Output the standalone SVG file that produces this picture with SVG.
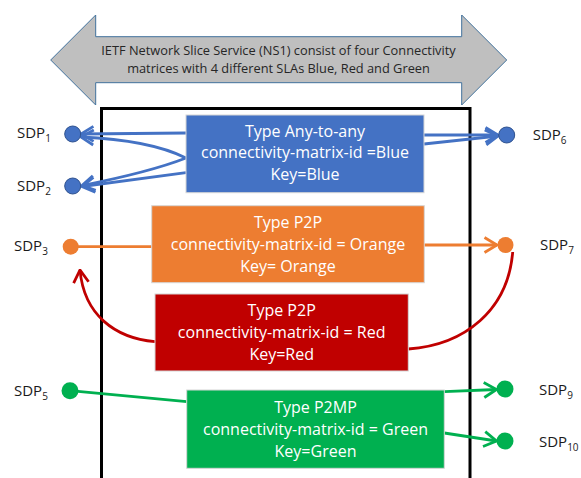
<svg xmlns="http://www.w3.org/2000/svg" width="581" height="478" viewBox="0 0 581 478">
<style>
.box{stroke:#d6d6d6;stroke-width:1}
.bt{font-family:"Open Sans","Liberation Sans",sans-serif;font-size:16px;fill:#ffffff;text-anchor:middle}
.ht{font-family:"Open Sans","Liberation Sans",sans-serif;font-size:12.8px;fill:#262626;text-anchor:middle}
.sdp{font-family:"Open Sans","Liberation Sans",sans-serif;font-size:15px;fill:#1a1a1a}
.sub{font-size:10px}
.cb{fill:none;stroke:#4472C4;stroke-width:2.8;marker-end:url(#mb)}
.co{fill:none;stroke:#ED7D31;stroke-width:2.8}
.cr{fill:none;stroke:#C00000;stroke-width:2.8}
.cg{fill:none;stroke:#00B050;stroke-width:2.8}
</style>
<defs>
<marker id="mb" viewBox="0 0 15 18" refX="14" refY="9" markerWidth="15" markerHeight="18" markerUnits="userSpaceOnUse" orient="auto"><path d="M1.5,1.5 L14,9 L1.5,16.5" fill="none" stroke="#4472C4" stroke-width="2.8"/></marker>
<marker id="mo" viewBox="0 0 15 18" refX="14" refY="9" markerWidth="15" markerHeight="18" markerUnits="userSpaceOnUse" orient="auto"><path d="M1.5,1.5 L14,9 L1.5,16.5" fill="none" stroke="#ED7D31" stroke-width="2.8"/></marker>
<marker id="mr" viewBox="0 0 15 18" refX="14" refY="9" markerWidth="15" markerHeight="18" markerUnits="userSpaceOnUse" orient="auto"><path d="M1.5,1.5 L14,9 L1.5,16.5" fill="none" stroke="#C00000" stroke-width="2.8"/></marker>
<marker id="mg" viewBox="0 0 15 18" refX="14" refY="9" markerWidth="15" markerHeight="18" markerUnits="userSpaceOnUse" orient="auto"><path d="M1.5,1.5 L14,9 L1.5,16.5" fill="none" stroke="#00B050" stroke-width="2.8"/></marker>
</defs>
<g id="banner">
<polygon points="50.7,60 95.7,15 95.7,36.7 461.7,36.7 461.7,15 506.7,60 461.7,105 461.7,82.7 95.7,82.7 95.7,105" fill="#BFBFBF" stroke="#41719C" stroke-width="1"/>
<text class="ht" x="278.5" y="55">IETF Network Slice Service (NS1) consist of four Connectivity</text>
<text class="ht" x="278.5" y="73">matrices with 4 different SLAs Blue, Red and Green</text>
</g>
<g id="frame">
<rect x="101.5" y="108.5" width="368.5" height="380" fill="none" stroke="#000" stroke-width="3"/>
</g>
<g id="connectors">
<path class="cb" d="M186,133 L81,134"/>
<path class="cb" d="M186,158 Q150,140 81,137"/>
<path class="cb" d="M186,158 Q150,172 82,185.5"/>
<path class="cb" d="M186,172.7 L82,186.5"/>
<path class="cb" d="M424,135 L498,135"/>
<path class="cb" d="M424,144 L498,136"/>
<path class="co" d="M78,246.7 L151.7,246.7"/>
<path class="co" d="M424,245 L497,245" marker-end="url(#mo)"/>
<path class="cr" d="M155,341.7 C115,338 84,315 80,270" marker-end="url(#mr)"/>
<path class="cr" d="M408.3,349 C465,345 508,310 512.7,252"/>
<path class="cg" d="M70,390.7 L186.7,401.7"/>
<path class="cg" d="M444.3,391.7 L496.5,389.5" marker-end="url(#mg)"/>
<path class="cg" d="M444.3,433 L496.5,441" marker-end="url(#mg)"/>
</g>
<g id="blue">
<rect class="box" x="186" y="115" width="238" height="77.7" fill="#4472C4"/>
<text class="bt" x="305" y="136.7">Type Any-to-any</text>
<text class="bt" x="305" y="158.3">connectivity-matrix-id =Blue</text>
<text class="bt" x="305" y="180">Key=Blue</text>
</g>
<g id="orange">
<rect class="box" x="151.7" y="205.7" width="272.6" height="77" fill="#ED7D31"/>
<text class="bt" x="288" y="228.3">Type P2P</text>
<text class="bt" x="288" y="250">connectivity-matrix-id = Orange</text>
<text class="bt" x="288" y="271.7">Key= Orange</text>
</g>
<g id="red">
<rect class="box" x="155" y="294" width="253.3" height="77" fill="#C00000"/>
<text class="bt" x="281.7" y="315.7">Type P2P</text>
<text class="bt" x="281.7" y="337.7">connectivity-matrix-id = Red</text>
<text class="bt" x="281.7" y="359.7">Key=Red</text>
</g>
<g id="green">
<rect class="box" x="186.7" y="390" width="257.6" height="78.3" fill="#00B050"/>
<text class="bt" x="315.5" y="412.7">Type P2MP</text>
<text class="bt" x="315.5" y="435">connectivity-matrix-id = Green</text>
<text class="bt" x="315.5" y="456.7">Key=Green</text>
</g>
<g id="sdp1"><circle cx="72.7" cy="134" r="8" fill="#4472C4" stroke="#2F528F" stroke-width="1"/><text class="sdp" x="17" y="138">SDP<tspan class="sub" dy="4">1</tspan></text></g>
<g id="sdp2"><circle cx="72.7" cy="186" r="8" fill="#4472C4" stroke="#2F528F" stroke-width="1"/><text class="sdp" x="17" y="190.7">SDP<tspan class="sub" dy="4">2</tspan></text></g>
<g id="sdp3"><circle cx="70.7" cy="246.7" r="8" fill="#ED7D31"/><text class="sdp" x="14" y="251">SDP<tspan class="sub" dy="4">3</tspan></text></g>
<g id="sdp5"><circle cx="70" cy="390.7" r="8.5" fill="#00B050"/><text class="sdp" x="14" y="396">SDP<tspan class="sub" dy="4">5</tspan></text></g>
<g id="sdp6"><circle cx="506.7" cy="135" r="8" fill="#4472C4" stroke="#2F528F" stroke-width="1"/><text class="sdp" x="532.7" y="140">SDP<tspan class="sub" dy="4">6</tspan></text></g>
<g id="sdp7"><circle cx="505.5" cy="245" r="8" fill="#ED7D31"/><text class="sdp" x="540" y="250">SDP<tspan class="sub" dy="4">7</tspan></text></g>
<g id="sdp9"><circle cx="505" cy="389" r="8.5" fill="#00B050"/><text class="sdp" x="539" y="395">SDP<tspan class="sub" dy="4">9</tspan></text></g>
<g id="sdp10"><circle cx="505" cy="441" r="8.5" fill="#00B050"/><text class="sdp" x="539" y="446.7">SDP<tspan class="sub" dy="4">10</tspan></text></g>
</svg>
